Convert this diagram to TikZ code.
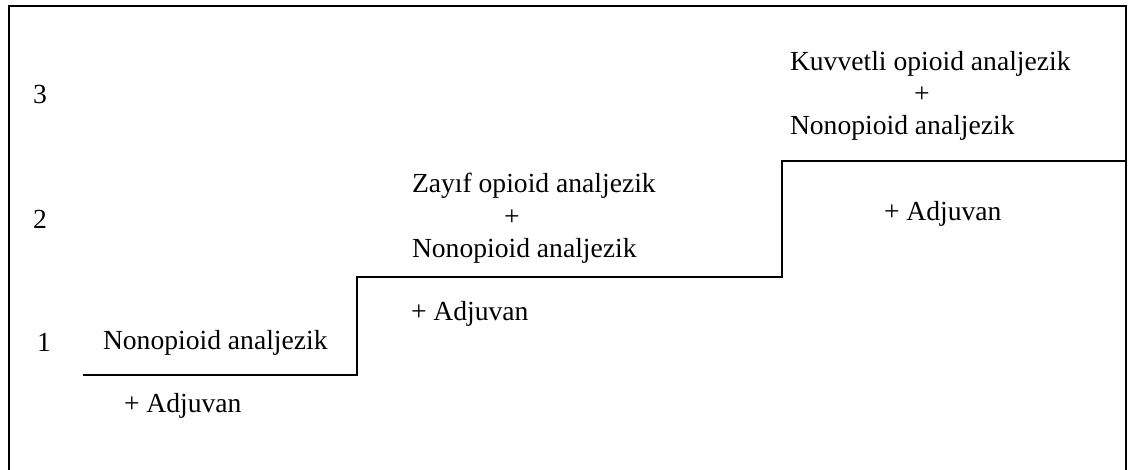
\documentclass[tikz,border=0pt]{standalone}
\usepackage{fontspec}
\setmainfont{Liberation Serif}
\begin{document}
\begin{tikzpicture}[x=1pt,y=-1pt,
  lbl/.style={anchor=base west,inner sep=0pt,outer sep=0pt,font=\fontsize{27.6}{33}\selectfont},
  stairline/.style={line width=1.8pt,line cap=rect}]
\useasboundingbox (0,0) rectangle (1133,470);
% frame (open at the bottom)
\coordinate (fbl) at (9,472);
\coordinate (ftl) at (9,6);
\coordinate (ftr) at (1126,6);
\coordinate (fbr) at (1126,472);
\draw[line width=1.8pt] (fbl) -- (ftl) -- (ftr) -- (fbr);
% staircase
\coordinate (s0) at (84,375);
\coordinate (s1) at (357,375);
\coordinate (s2) at (357,277);
\coordinate (s3) at (782,277);
\coordinate (s4) at (782,161);
\coordinate (s5) at (1126,161);
\draw[stairline] (s0) -- (s1) -- (s2) -- (s3) -- (s4) -- (s5);
% level numbers
\node[lbl] (n3) at (33,104) {3};
\node[lbl] (n2) at (33,229) {2};
\node[lbl] (n1) at (37,352) {1};
% step 1
\node[lbl] (a1) at (103,350) {Nonopioid analjezik};
\node[lbl] (b1) at (124,413) {+ Adjuvan};
% step 2
\node[lbl] (a2) at (412,193) {Zayıf opioid analjezik};
\node[lbl] (p2) at (504,226) {+};
\node[lbl] (c2) at (412,258) {Nonopioid analjezik};
\node[lbl] (b2) at (411,321) {+ Adjuvan};
% step 3
\node[lbl] (a3) at (790,71) {Kuvvetli opioid analjezik};
\node[lbl] (p3) at (914,103) {+};
\node[lbl] (c3) at (790,135) {Nonopioid analjezik};
\node[lbl] (b3) at (884,221) {+ Adjuvan};
\end{tikzpicture}
\end{document}
